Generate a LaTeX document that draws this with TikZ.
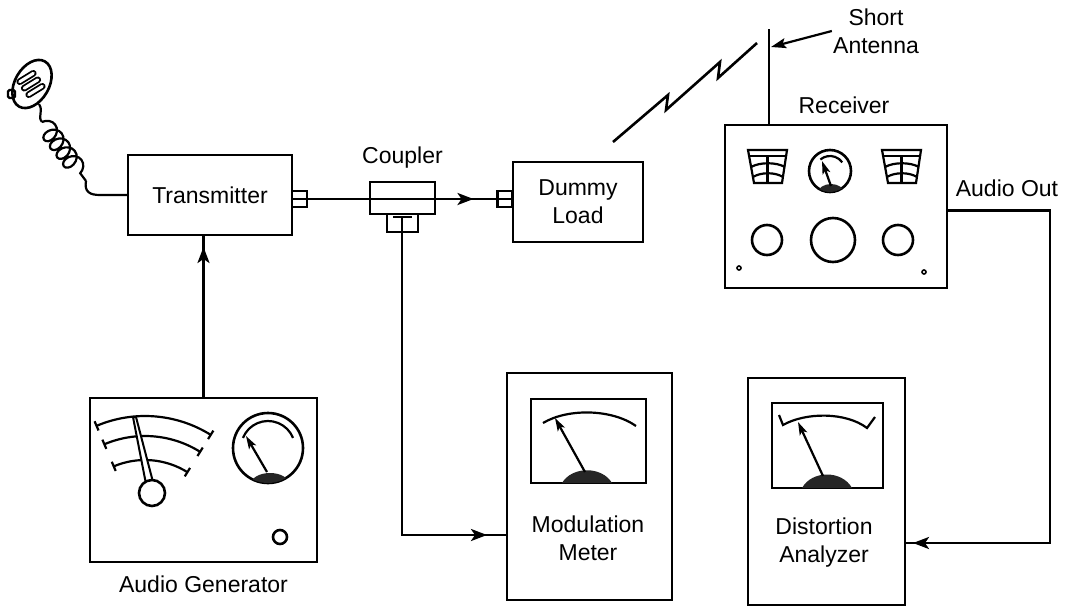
\documentclass[tikz,border=0pt]{standalone}
\usepackage{fontspec}
\setmainfont{Liberation Sans}
\usetikzlibrary{arrows.meta,positioning,decorations.markings,decorations.pathmorphing}

\begin{document}
\begin{tikzpicture}[
            x=1pt, y=-1pt,
            line width=2.6pt,
            font=\fontsize{23}{28}\selectfont,
                unit/.style = {rectangle, draw, align=center,% boxes of the test set-up
                               inner sep=0pt, outer sep=0pt},
                jack/.style = {rectangle, draw, minimum width=15pt, minimum height=16pt,
                               inner sep=0pt, outer sep=0pt,
                               path picture={\draw[line width=1.8pt]
                                 (path picture bounding box.west) -- (path picture bounding box.east);}},
                 lbl/.style = {align=center, inner sep=0pt},
                thin/.style = {line width=2.2pt},
                feed/.style = {postaction={decorate},% arrow head a bit before the end
                               decoration={markings, mark=at position #1 with
                                 {\arrow{Stealth[length=16pt,width=12pt,inset=4pt]}}}},
              needle/.style = {line width=2.2pt,
                               -{Stealth[length=13pt,width=8pt,inset=3pt,fill=gray!50]}},
               mound/.style = {fill=black!85, draw=none},
                ]
\useasboundingbox (0,0) rectangle (1071,608);

% boxes
\node[unit, minimum width=164pt, minimum height=80pt] (tx) at (210,195) {Transmitter};
\node[jack] (txjack) at (299.5,199) {};
\node[unit, minimum width=65pt, minimum height=32pt] (cpl) at (402.5,198) {};
\node[unit, minimum width=31pt, minimum height=18pt, below=0pt of cpl] (cplfoot) {};
\node[lbl, above=12pt of cpl] (cpllbl) {Coupler};
\node[unit, minimum width=130pt, minimum height=80pt] (dl) at (578,202) {Dummy\\Load};
\node[jack] (dljack) at (505,199) {};
\node[unit, minimum width=222pt, minimum height=163pt] (rx) at (836,206.5) {};
\node[lbl] (rxlbl) at (844,105) {Receiver};
\node[lbl] (outlbl) at (1007,188) {Audio Out};
\node[lbl] (antlbl) at (876,31) {Short\\Antenna};
\node[unit, minimum width=227pt, minimum height=164pt] (ag) at (203.5,480) {};
\node[lbl, below=13pt of ag] (aglbl) {Audio Generator};
\node[unit, minimum width=165pt, minimum height=227pt] (mm) at (589.5,486.5) {};
\node[lbl] (mmlbl) at (588,538) {Modulation\\Meter};
\node[unit, minimum width=157pt, minimum height=227pt] (da) at (826.5,491.5) {};
\node[lbl] (dalbl) at (824,543) {Distortion\\Analyzer};

% signal lines
\draw[feed=-12pt] (ag.north) -- (ag.north |- tx.south);
\draw[feed=-24pt] (txjack.east) -- (dljack.west);
\coordinate (tee) at (402,217);
\draw[thin] (393,217) -- (412,217);
\draw[feed=-20pt] (tee) |- ([yshift=-48.5pt]mm.west);
\draw[feed=-8pt] ([yshift=-4pt]rx.east) -- ++(103,0) |- ([yshift=-51.5pt]da.east);

% antenna and radiated signal
\draw ([xshift=-67pt]rx.north) -- ++(0,-96) coordinate (anttop);
\coordinate (antpt) at (771,47);
\draw[thin, -{Stealth[length=15pt,width=10pt,inset=3pt]}] (antlbl.west) -- (antpt);
\draw (613,142) -- (668,95) -- (666,110) -- (720,62) -- (718,78) -- (757,43);

% microphone
\draw[rotate around={60:(32,84)}] (32,84) ellipse[x radius=26pt, y radius=17pt];
\foreach \a/\b in {{(19.7,81.7)}/{(33.3,73.3)},{(24.2,88.2)}/{(37.8,79.8)},{(28.7,94.7)}/{(42.3,86.3)}}
    \draw[line width=1.8pt, double=white, double distance=3pt, line cap=round] \a -- \b;
\draw[thin, rounded corners=1.5pt] (8,90) rectangle (15,98);
\draw[thin] (39,104) .. controls (44,112) and (37,116) .. (42,122);
\draw[thin, decorate, decoration={coil, amplitude=9pt, segment length=11pt, aspect=0.8}]
    (42,122) -- (86,181);
\draw[thin] (86,181) .. controls (84,192) and (90,195) .. (100,195) -- (tx.west);

% audio generator front panel
\begin{scope}[shift={(145,540)}]
  \foreach \r/\ri/\ro in {124/119/129, 104/99/109, 80/75/85} {
    \draw[thin] (113:\r pt) arc[start angle=113, end angle=58, radius=\r pt];
    \draw[thin] (113:\ri pt) -- (113:\ro pt);
    \draw[thin] (58:\ri pt) -- (58:\ro pt);
  }
\end{scope}
\filldraw[fill=white, line width=2pt] (133,417) -- (146,484) -- (153,482) -- (136,417) -- cycle;
\filldraw[fill=white] (152,493) circle[radius=13pt];
\draw (268,448) circle[radius=35pt];
\begin{scope}
  \clip (268,448) circle[radius=35pt];
  \fill[mound] (270,484) ellipse[x radius=19pt, y radius=11pt];
\end{scope}
\draw[thin] (268,448) ++(158:27pt) arc[start angle=158, end angle=22, radius=27pt];
\draw[needle] (267,472) -- (246,436);
\draw (280,537) circle[radius=7pt];

% receiver front panel
\foreach \dx in {0,134} {
  \begin{scope}[xshift=\dx pt]
    \draw[thin] (748,150) -- (787,150) -- (782,183) -- (754,183) -- cycle;
    \draw[thin] (749,156) -- (786,156);
    \draw[thin] (751,167) .. controls (760,162) and (776,162) .. (785,167);
    \draw[thin] (753,177) .. controls (761,172) and (775,172) .. (783,177);
    \draw[thin] (767.5,156) -- (767.5,183);
  \end{scope}
}
\draw (830,171) circle[radius=21pt];
\begin{scope}
  \clip (830,171) circle[radius=21pt];
  \fill[mound] (831,193) ellipse[x radius=13pt, y radius=9pt];
\end{scope}
\draw[thin] (830,171) ++(130:15pt) arc[start angle=130, end angle=35, radius=15pt];
\draw[needle] (831,186) -- (822,161);
\draw (767,240) circle[radius=15pt];
\draw (833,240) circle[radius=22pt];
\draw (898,240) circle[radius=15pt];
\draw[line width=1.6pt] (739,268) circle[radius=2pt];
\draw[line width=1.6pt] (924,272) circle[radius=2pt];

% meter windows
\draw (531,399) rectangle (646,483);
\draw[thin] (543,423) .. controls (568,408) and (612,409) .. (636,426);
\fill[mound] (562,483) .. controls (572,466) and (602,466) .. (612,483) -- cycle;
\draw[needle] (585,472) -- (555,418);

\draw (772,403) rectangle (883,488);
\draw[thin] (779,415) -- (783,425) .. controls (806,412) and (846,412) .. (867,428) -- (875,417);
\fill[mound] (802,488) .. controls (812,470) and (842,470) .. (852,488) -- cycle;
\draw[needle] (823,476) -- (798,422);
\end{tikzpicture}
\end{document}
